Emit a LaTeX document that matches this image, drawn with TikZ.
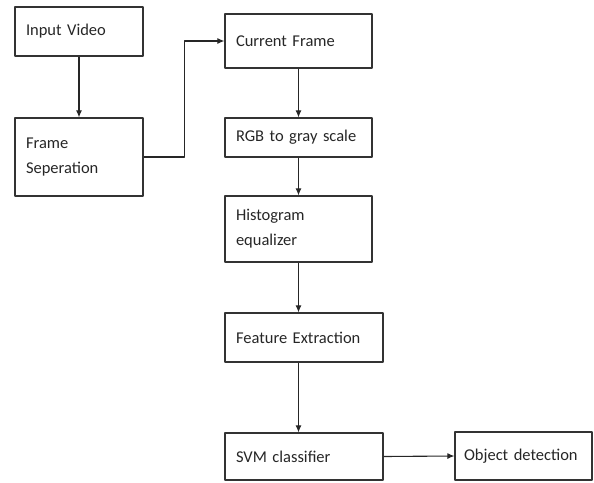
\documentclass[tikz,border=0pt]{standalone}
\usepackage{fontspec}
\setmainfont{Carlito}
\usetikzlibrary{arrows.meta}
\begin{document}
\begin{tikzpicture}[x=1pt,y=-1pt,>={Latex[length=7pt,width=6pt]},line join=round,
	blk/.style={draw=black!80,line width=1.2pt,rectangle,align=left,inner xsep=11pt,text=black!85,font=\fontsize{16.5}{25}\selectfont},
	flow/.style={->,line width=1.1pt,black!85}]
	\useasboundingbox (0,0) rectangle (594,482);
	% left column
	\node[blk,minimum width=128pt,minimum height=49pt,text width=106pt] (vid) at (79,31.5) {Input Video};
	\node[blk,minimum width=128pt,minimum height=78pt,text width=106pt] (sep) at (79,157) {Frame\\Seperation};
	% middle column
	\node[blk,minimum width=147pt,minimum height=54pt,text width=125pt] (cur) at (298.5,41) {Current Frame};
	\node[blk,minimum width=147pt,minimum height=39pt,text width=125pt] (gray) at (298.5,137.5) {RGB to gray scale};
	\node[blk,minimum width=147pt,minimum height=66pt,text width=125pt] (hist) at (298.5,229) {Histogram\\equalizer};
	\node[blk,minimum width=158pt,minimum height=49pt,text width=136pt] (feat) at (304,337.5) {Feature Extraction};
	\node[blk,minimum width=158pt,minimum height=47pt,text width=136pt] (svm) at (304,456.5) {SVM classifier};
	\node[blk,minimum width=137pt,minimum height=48pt,text width=119pt,inner xsep=9pt] (obj) at (523.5,456) {Object detection};
	% connectors
	\draw[flow] (vid) -- (sep);
	\draw[flow] (sep.east) -- ++(41,0) |- (cur.west);
	\draw[flow] (cur) -- (gray);
	\draw[flow] (gray) -- (hist);
	\draw[flow] (hist.south) -- (hist.south |- feat.north);
	\draw[flow] (hist.south |- feat.south) -- (hist.south |- svm.north);
	\draw[flow] (svm.east) -- (obj.west);
\end{tikzpicture}
\end{document}
